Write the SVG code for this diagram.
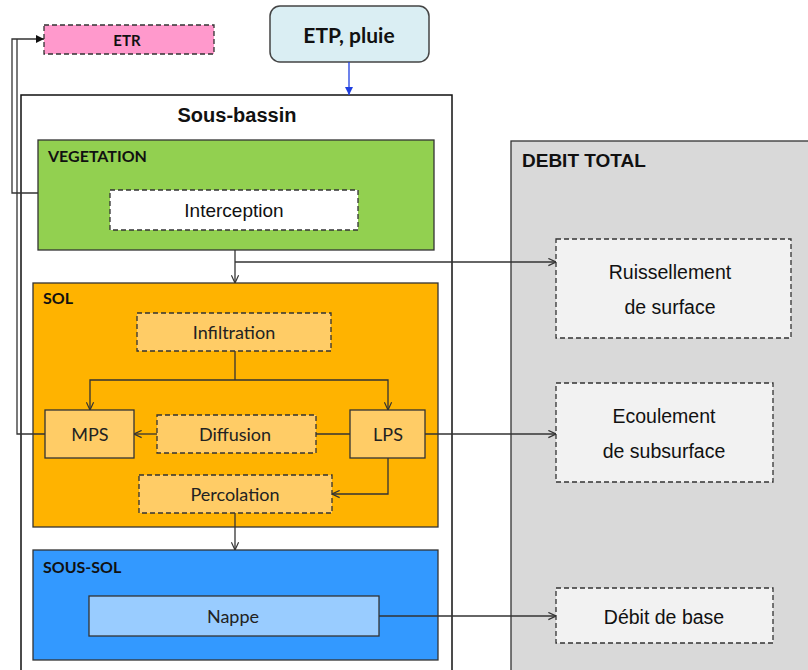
<svg xmlns="http://www.w3.org/2000/svg" width="808" height="670" viewBox="0 0 808 670">
<style>
.box{stroke:#333;stroke-width:1.3}
.dash{stroke:#333;stroke-width:1.3;stroke-dasharray:5,3}
.cal{font-family:Lato,"Liberation Sans",sans-serif;font-size:18px;fill:#222;text-anchor:middle;dominant-baseline:central}
.calb{font-family:Lato,"Liberation Sans",sans-serif;font-size:16px;font-weight:bold;fill:#111}
.ar{font-family:"Liberation Sans",Arial,sans-serif;font-size:19px;fill:#111;text-anchor:middle}
.arb{font-family:"Liberation Sans",Arial,sans-serif;font-weight:bold;fill:#111}
.con{fill:none;stroke:#333;stroke-width:1.3}
</style>
<defs>
<marker id="open" viewBox="0 0 10 10" refX="9.5" refY="5" markerWidth="9" markerHeight="9" markerUnits="userSpaceOnUse" orient="auto">
<path d="M1,1 L9.5,5 L1,9" fill="none" stroke="#333" stroke-width="1.3"/>
</marker>
<marker id="fill" viewBox="0 0 10 10" refX="10" refY="5" markerWidth="8" markerHeight="8" markerUnits="userSpaceOnUse" orient="auto">
<path d="M0,0 L10,5 L0,10 Z" fill="#111"/>
</marker>
<marker id="blue" viewBox="0 0 10 10" refX="10" refY="5" markerWidth="8" markerHeight="8" markerUnits="userSpaceOnUse" orient="auto">
<path d="M0,0 L10,5 L0,10 Z" fill="#1f3fe0"/>
</marker>
</defs>

<g id="debit-total">
<rect x="511" y="141" width="310" height="540" fill="#d9d9d9" class="box"/>
<text x="522" y="167" class="arb" style="font-size:19px">DEBIT TOTAL</text>
</g>

<g id="sous-bassin">
<rect x="21" y="95" width="431" height="590" fill="#fff" stroke="#111" stroke-width="1.5"/>
<text x="237" y="122" class="arb" style="font-size:20px" text-anchor="middle">Sous-bassin</text>
</g>

<g id="etr">
<rect x="44" y="25" width="170" height="29" fill="#ff99cc" class="dash"/>
<text x="127" y="40" class="calb" style="font-size:15px" text-anchor="middle" dominant-baseline="central">ETR</text>
</g>

<g id="etp">
<rect x="270" y="6" width="159" height="56" rx="10" fill="#daeef3" stroke="#444" stroke-width="1.5"/>
<text x="349" y="34" class="calb" style="font-size:21px" text-anchor="middle" dominant-baseline="central">ETP, pluie</text>
</g>

<g id="vegetation">
<rect x="38" y="140" width="396" height="110" fill="#92d050" class="box"/>
<text x="48" y="162" class="calb">VEGETATION</text>
</g>
<g id="interception">
<rect x="110" y="190" width="248" height="40" fill="#fff" class="dash"/>
<text x="234" y="217" class="ar">Interception</text>
</g>

<g id="sol">
<rect x="33" y="283" width="405" height="244" fill="#ffb300" class="box"/>
<text x="43" y="304" class="calb">SOL</text>
</g>
<g id="infiltration">
<rect x="137" y="313" width="194" height="38" fill="#ffcc66" class="dash"/>
<text x="234" y="332" class="cal">Infiltration</text>
</g>
<g id="mps">
<rect x="45" y="410" width="89" height="48" fill="#ffcc66" class="box"/>
<text x="90" y="434" class="cal">MPS</text>
</g>
<g id="diffusion">
<rect x="157" y="415" width="159" height="38" fill="#ffcc66" class="dash"/>
<text x="235" y="434" class="cal">Diffusion</text>
</g>
<g id="lps">
<rect x="350" y="410" width="75" height="48" fill="#ffcc66" class="box"/>
<text x="388" y="434" class="cal">LPS</text>
</g>
<g id="percolation">
<rect x="139" y="475" width="193" height="38" fill="#ffcc66" class="dash"/>
<text x="235" y="494" class="cal">Percolation</text>
</g>

<g id="sous-sol">
<rect x="33" y="550" width="405" height="110" fill="#3399ff" class="box"/>
<text x="43" y="573" class="calb">SOUS-SOL</text>
</g>
<g id="nappe">
<rect x="89" y="596" width="290" height="40" fill="#99ccff" class="box"/>
<text x="233" y="616" class="cal">Nappe</text>
</g>

<g id="ruissellement">
<rect x="556" y="239" width="235" height="99" fill="#f2f2f2" class="dash"/>
<text x="670" y="279" class="ar" style="font-size:19.5px">Ruissellement</text>
<text x="670" y="314" class="ar" style="font-size:19.5px">de surface</text>
</g>
<g id="ecoulement">
<rect x="556" y="383" width="217" height="99" fill="#f2f2f2" class="dash"/>
<text x="664" y="423" class="ar" style="font-size:19.5px">Ecoulement</text>
<text x="664" y="458" class="ar" style="font-size:19.5px">de subsurface</text>
</g>
<g id="debit-base">
<rect x="556" y="588" width="217" height="55" fill="#f2f2f2" class="dash"/>
<text x="664" y="624" class="ar" style="font-size:19.5px">Débit de base</text>
</g>

<g id="connectors">
<line x1="349" y1="62" x2="349" y2="95" stroke="#1f3fe0" stroke-width="1.3" marker-end="url(#blue)"/>
<path class="con" d="M38,193 H12 V39 H44" marker-end="url(#fill)"/>
<path class="con" d="M45,434 H17 V39"/>
<path class="con" d="M235,250 V283" marker-end="url(#open)"/>
<path class="con" d="M235,262 H556" marker-end="url(#open)"/>
<path class="con" d="M235,351 V380"/>
<path class="con" d="M235,380 H90 V410" marker-end="url(#open)"/>
<path class="con" d="M235,380 H388 V410" marker-end="url(#open)"/>
<path class="con" d="M350,434 H316"/>
<path class="con" d="M157,434 H134" marker-end="url(#open)"/>
<path class="con" d="M388,458 V494 H332" marker-end="url(#open)"/>
<path class="con" d="M425,434 H556" marker-end="url(#open)"/>
<path class="con" d="M235,513 V550" marker-end="url(#open)"/>
<path class="con" d="M379,616 H556" marker-end="url(#open)"/>
</g>
</svg>
